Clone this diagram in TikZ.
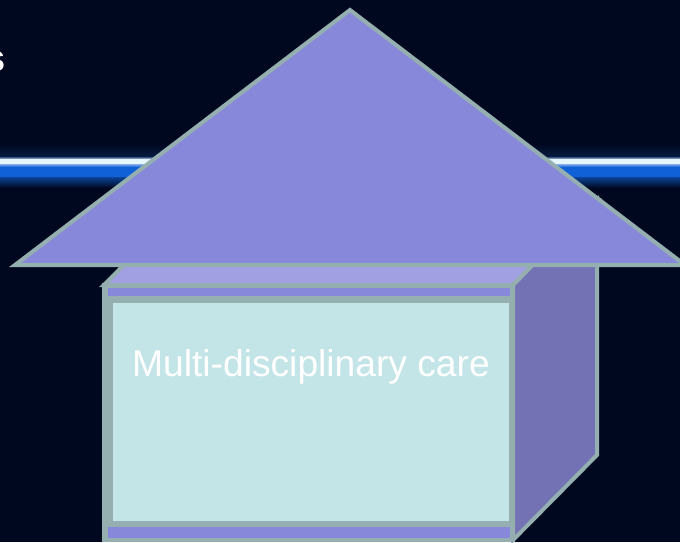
\documentclass[tikz,border=0pt]{standalone}
\usepackage{fontspec}
\setmainfont{Liberation Sans}
\usetikzlibrary{positioning}
\definecolor{night}{HTML}{000820}
\definecolor{edge}{HTML}{95AFB0}
\definecolor{roof}{HTML}{8888DA}
\definecolor{topface}{HTML}{A0A0E2}
\definecolor{sideface}{HTML}{7272B4}
\definecolor{panel}{HTML}{C4E5E7}
\definecolor{glow}{HTML}{E6F6FF}
\definecolor{stripe}{HTML}{1060D8}
\begin{document}
\begin{tikzpicture}[x=0.5pt,y=-0.5pt,
  face/.style={draw=edge,line width=2pt,line join=miter},
  band/.style={fill=roof,draw=none},
  lbl/.style={text=white,inner sep=0pt,font=\fontsize{18.6}{22}\selectfont}]
\fill[night] (0,0) rectangle (680,542);
\useasboundingbox (0,0) rectangle (680,542);
% stripe across the slide
\shade[top color=night,bottom color=night!60!stripe!60!black] (0,144) rectangle (680,156);
\shade[top color=night!60!stripe!60!black,bottom color=glow!70!stripe] (0,156) rectangle (680,159);
\fill[glow] (0,159) rectangle (680,164);
\shade[top color=stripe!50!white,bottom color=stripe] (0,164) rectangle (680,167);
\fill[stripe] (0,167) rectangle (680,177);
\shade[top color=stripe!70!black,bottom color=night] (0,177) rectangle (680,188);
\node[text=white,inner sep=0pt,anchor=base east,font=\fontsize{19}{22}\selectfont\bfseries] (title) at (6,71) {s};
% box: top, side, front
\draw[face,fill=topface] (104,285) -- (188,200) -- (597,200) -- (513,285) -- cycle;
\draw[face,fill=sideface] (513,285) -- (597,200) -- (597,455) -- (513,540) -- cycle;
\draw[face,fill=edge] (104,285) rectangle (513,540);
\fill[band] (108,288) rectangle (510,296);
\draw[face,fill=panel] (110.5,300.5) rectangle (510.5,522.5);
\fill[band] (108,527) rectangle (510,538);
\node[lbl,anchor=base] (care) at (311,376) {Multi-disciplinary care};
% roof
\draw[face,fill=roof] (350,10) -- (15,265) -- (685,265) -- cycle;
\end{tikzpicture}
\end{document}
